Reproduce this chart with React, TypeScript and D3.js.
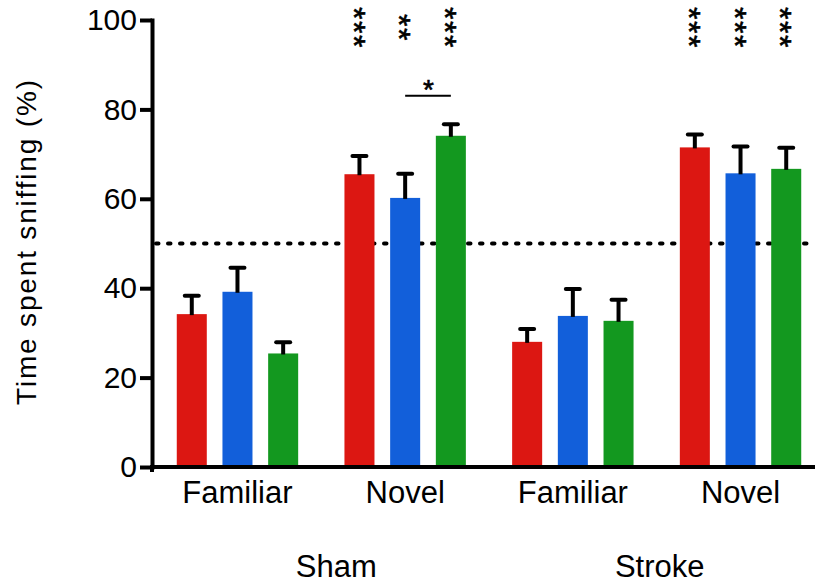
import React, { useEffect, useRef } from "react";
import * as d3 from "d3";

const conditions = ["sham-familiar", "sham-novel", "stroke-familiar", "stroke-novel"];
const conditionLabels = ["Familiar", "Novel", "Familiar", "Novel"];
const surgeryLabels = ["Sham", "Stroke"];
const groupNames = ["Group 1", "Group 2", "Group 3"];
const groupColors = ["#dc1712", "#125fda", "#13981f"];

// mean time spent sniffing (%), in condition order
const group1Mean = [34.2, 65.5, 28.0, 71.5];
const group2Mean = [39.2, 60.2, 33.8, 65.7];
const group3Mean = [25.4, 74.1, 32.7, 66.7];

// SEM (only the upper whisker is drawn)
const group1Sem = [4.1, 4.1, 2.9, 2.9];
const group2Sem = [5.4, 5.4, 6.0, 6.0];
const group3Sem = [2.5, 2.6, 4.7, 4.7];

// significance vs chance
const group1Stars = ["", "***", "", "***"];
const group2Stars = ["", "**", "", "***"];
const group3Stars = ["", "***", "", "***"];

const yTicks = [0, 20, 40, 60, 80, 100];
const chanceLevel = 50;

const FONT = "'Liberation Sans', Arial, Helvetica, sans-serif";
const W = 815;
const H = 588;
const axisX = 152;

const series = groupNames.map((name, i) => ({
  name,
  color: groupColors[i],
  mean: [group1Mean, group2Mean, group3Mean][i],
  sem: [group1Sem, group2Sem, group3Sem][i],
  stars: [group1Stars, group2Stars, group3Stars][i],
}));

const App = () => {
  const axisRef = useRef<SVGGElement>(null);

  const y = d3.scaleLinear().domain([0, 100]).range([467, 20]);

  const x0 = d3
    .scaleBand()
    .domain(conditions)
    .range([160, 818])
    .paddingInner(0.276)
    .paddingOuter(0.1);

  const x1 = d3
    .scaleBand()
    .domain(groupNames)
    .range([0, x0.bandwidth()])
    .paddingInner(0.343)
    .paddingOuter(0);

  const barCenter = (c: string, g: string) => (x0(c) as number) + (x1(g) as number) + x1.bandwidth() / 2;

  useEffect(() => {
    const g = d3.select(axisRef.current);
    g.call(
      d3.axisLeft(y).tickValues(yTicks).tickSize(12).tickSizeOuter(0).tickPadding(3)
    );
    g.select(".domain").attr("stroke-width", 4).attr("stroke-linecap", "square");
    g.selectAll(".tick line").attr("stroke-width", 4);
    g.selectAll(".tick text")
      .attr("font-size", 30)
      .attr("font-family", FONT)
      .attr("fill", "#000");
  }, []);

  // group label centres (Sham / Stroke) under each pair of conditions
  const surgeryCenters = [0, 1].map(k => {
    const a = x0(conditions[k * 2]) as number;
    const b = (x0(conditions[k * 2 + 1]) as number) + x0.bandwidth();
    return (a + b) / 2;
  });
  const surgeryNudge = [15, 3];

  const starSize = 32;
  const brBlue = barCenter("sham-novel", "Group 2");
  const brGreen = barCenter("sham-novel", "Group 3");
  const brY = 95.7;

  return (
    <svg
      width={W}
      height={H}
      style={{ position: "absolute", left: 0, top: 0, background: "#fff" }}
      fontFamily={FONT}
    >
      {/* chance level */}
      <line
        x1={axisX + 4}
        x2={W}
        y1={y(chanceLevel)}
        y2={y(chanceLevel)}
        stroke="#000"
        strokeWidth={4}
        strokeLinecap="round"
        strokeDasharray="2.5 9.5"
      />

      {series.map(s =>
        conditions.map((c, i) => {
          const bx = (x0(c) as number) + (x1(s.name) as number);
          const cx = bx + x1.bandwidth() / 2;
          const top = y(s.mean[i]);
          const err = y(s.mean[i] + s.sem[i]);
          return (
            <g key={s.name + c}>
              <rect x={bx} y={top} width={x1.bandwidth()} height={y(0) - top} fill={s.color} />
              <line x1={cx} x2={cx} y1={top + 1} y2={err} stroke="#000" strokeWidth={4} />
              <line x1={cx - 7} x2={cx + 7} y1={err} y2={err} stroke="#000" strokeWidth={4} strokeLinecap="round" />
              {s.stars[i] && (
                <text
                  transform={`translate(${cx + 1.5 - 0.575 * starSize},28) rotate(90)`}
                  textAnchor="middle"
                  fontSize={starSize}
                  letterSpacing={1.5}
                  fill="#000"
                  stroke="#000"
                  strokeWidth={0.6}
                >
                  {s.stars[i]}
                </text>
              )}
            </g>
          );
        })
      )}

      {/* blue vs green comparison, sham novel */}
      <line x1={brBlue} x2={brGreen} y1={brY} y2={brY} stroke="#000" strokeWidth={2} />
      <text x={(brBlue + brGreen) / 2 + 0.5} y={99} textAnchor="middle" fontSize={28} stroke="#000" strokeWidth={0.6}>
        *
      </text>

      {/* axes */}
      <g ref={axisRef} transform={`translate(${axisX},0)`} />
      <path d={`M${axisX},472V${y(0)}H${W}`} fill="none" stroke="#000" strokeWidth={4} />

      {conditions.map((c, i) => (
        <text
          key={c}
          x={(x0(c) as number) + x0.bandwidth() / 2}
          y={503}
          textAnchor="middle"
          fontSize={31}
        >
          {conditionLabels[i]}
        </text>
      ))}

      {surgeryLabels.map((lab, k) => (
        <text key={lab} x={surgeryCenters[k] + surgeryNudge[k]} y={577} textAnchor="middle" fontSize={31}>
          {lab}
        </text>
      ))}

      <text
        transform="translate(36,242.5) rotate(-90)"
        textAnchor="middle"
        fontSize={28}
        textLength={325}
        lengthAdjust="spacing"
      >
        Time spent sniffing (%)
      </text>
    </svg>
  );
};

export default App;
